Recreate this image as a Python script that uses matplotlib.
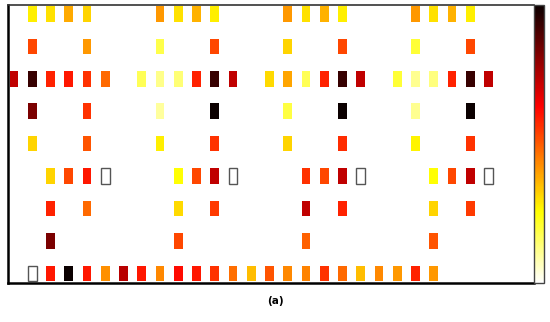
import numpy as np
import matplotlib
matplotlib.use("Agg")
import matplotlib.pyplot as plt
from matplotlib import cm, colors

N = None

# one list per row (top to bottom), 27 columns, None = empty cell
row_0 = [N, .28, .30, .38, .32, N, N, N, .41, .30, .37, .28, N, N, N, .41, .30, .37, .28, N, N, N, .41, .30, .37, .28, N]
row_1 = [N, .53, N, N, .41, N, N, N, .18, N, N, .53, N, N, N, .32, N, N, .53, N, N, N, .20, N, N, .53, N]
row_2 = [.73, .93, .585, .60, .56, .48, N, .17, .12, .14, .585, .93, .73, N, .31, .39, .17, .585, .93, .73, N, .20, .11, .13, .585, .93, .73]
row_3 = [N, .83, N, N, .56, N, N, N, .10, N, N, 1.0, N, N, N, .19, N, N, 1.0, N, N, N, .11, N, N, 1.0, N]
row_4 = [N, .32, N, N, .51, N, N, N, .28, N, N, .56, N, N, N, .32, N, N, .57, N, N, N, .27, N, N, .56, N]
row_5 = [N, N, .32, .53, .60, 0, N, N, N, .25, .53, .73, 0, N, N, N, .56, .53, .73, 0, N, N, N, .25, .53, .73, 0]
row_6 = [N, N, .585, N, .48, N, N, N, N, .31, N, .55, N, N, N, N, .73, N, .585, N, N, N, N, .32, N, .55, N]
row_7 = [N, N, .83, N, N, N, N, N, N, .53, N, N, N, N, N, N, .49, N, N, N, N, N, N, .51, N, N, N]
row_8 = [N, 0, .60, 1.0, .60, .42, .74, .60, .43, .62, .60, .56, .47, .355, .51, .43, .44, .56, .48, .355, .43, .41, .585, .41, N, N, N]

rows = [row_0, row_1, row_2, row_3, row_4, row_5, row_6, row_7, row_8]
caption = "(a)"

cmap = plt.get_cmap("hot_r")
norm = colors.Normalize(vmin=0, vmax=1)

fig = plt.figure(figsize=(5.5, 3.22), dpi=100)
W, H = 550.0, 322.0
ax = fig.add_axes([8 / W, (H - 283) / H, 526 / W, 278 / H])
cax = fig.add_axes([534 / W, (H - 283) / H, 10 / W, 278 / H])

for r, row in enumerate(rows):
	for c, v in enumerate(row):
		if v is None:
			continue
		if v == 0:
			ax.bar(c, 0.48, bottom=r - 0.24, width=0.48, color="white",
				edgecolor="#555555", linewidth=1.0)
		else:
			ax.bar(c, 0.48, bottom=r - 0.24, width=0.48, color=cmap(norm(v)),
				edgecolor="none")

ax.set_xlim(-0.33, 28.49)
ax.set_ylim(8.30, -0.28)
ax.set_xticks([])
ax.set_yticks([])
ax.spines["left"].set_linewidth(1.8)
ax.spines["bottom"].set_linewidth(1.8)
ax.spines["top"].set_linewidth(1.2)
ax.spines["top"].set_color("#333333")
ax.spines["right"].set_visible(False)

cb = fig.colorbar(cm.ScalarMappable(norm=norm, cmap=cmap), cax=cax)
cb.set_ticks([])
cb.outline.set_linewidth(1.0)
cb.outline.set_edgecolor("#444444")

fig.text(275 / W, 1 - 301 / H, caption, ha="center", va="center",
	fontsize=7.5, fontweight="bold")

fig.savefig("out.png", dpi=100)
